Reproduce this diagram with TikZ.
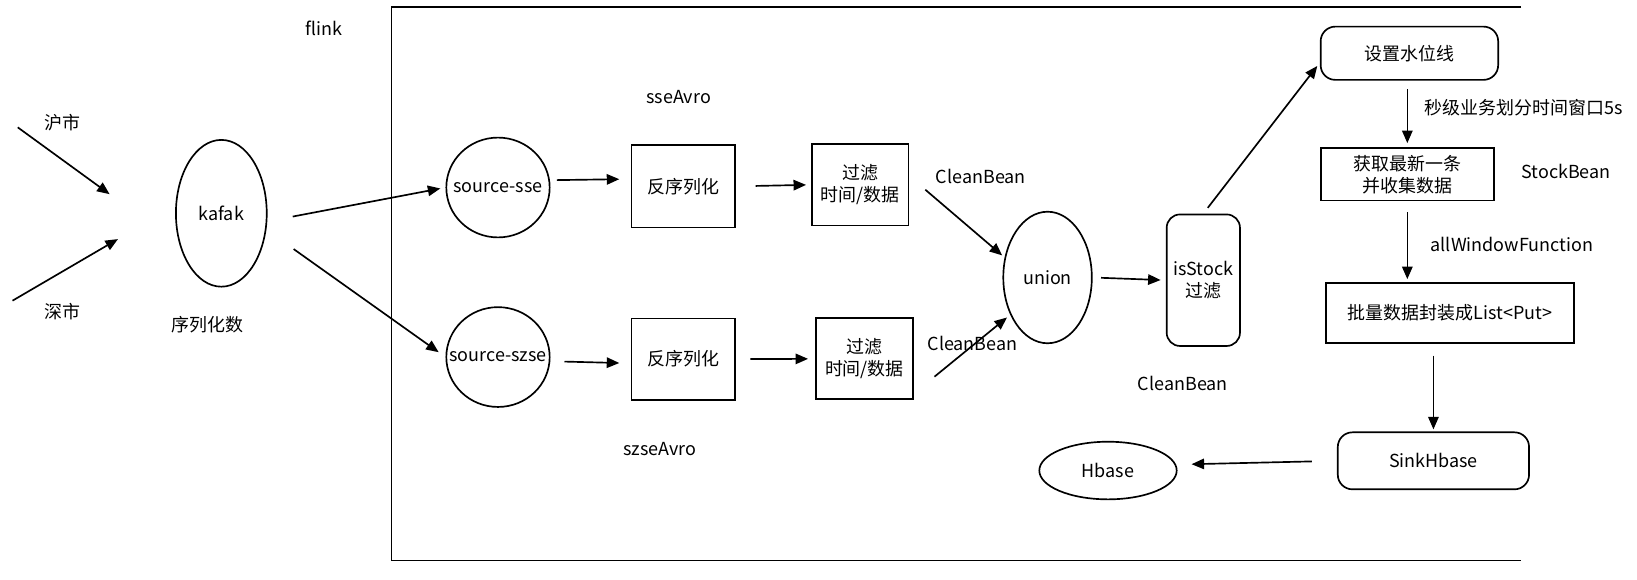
\documentclass[tikz,border=0pt]{standalone}
\usepackage{fontspec}
\setmainfont{Noto Sans CJK SC}
\usetikzlibrary{shapes.geometric,arrows.meta,positioning}

\begin{document}
\begin{tikzpicture}[x=0.5pt,y=-0.5pt,
    font=\fontsize{8.6pt}{10.6pt}\selectfont,
    every node/.style={inner sep=0pt},
    ell/.style={draw,ellipse,line width=0.8pt},
    box/.style={draw,rectangle,line width=0.8pt,align=center},
    rbox/.style={box,rounded corners=7pt},
    arr/.style={-{Triangle[length=6pt,width=5pt]},line width=0.8pt}]
    \useasboundingbox (0,0) rectangle (1568,555);
    %flink frame, open on the right
    \draw[line width=0.8pt] (1457,7) -- (375,7) -- (375,537) -- (1457,537);
    \node (flink) at (310,27) {flink};
    %inputs
    \node (hu) at (60,117) {沪市};
    \node (shen) at (60,298) {深市};
    \coordinate (hu0) at (17,122);
    \coordinate (hu1) at (105,186);
    \coordinate (shen0) at (12,288);
    \coordinate (shen1) at (113,229);
    \draw [arr] (hu0) -- (hu1);
    \draw [arr] (shen0) -- (shen1);
    \node [ell,minimum width=43.5pt,minimum height=70.3pt] (kafak) at (212,204.3) {kafak};
    \node (ser) at (199,311) {序列化数};
    %two sources
    \node [ell,minimum width=49.5pt,minimum height=47.8pt,label=center:source-sse] (sse) at (477,179.6) {};
    \node [ell,minimum width=49.5pt,minimum height=47.8pt,label=center:source-szse] (szse) at (477,342) {};
    \node (sseavro) at (650,93) {sseAvro};
    \node (szseavro) at (632,430) {szseAvro};
    \node [box,minimum width=49.5pt,minimum height=39.4pt] (deser1) at (654.5,178.5) {反序列化};
    \node [box,minimum width=49.5pt,minimum height=39pt] (deser2) at (654.5,344) {反序列化};
    \node [box,minimum width=46.3pt,minimum height=39pt] (filt1) at (824,177) {过滤\\时间/数据};
    \node [box,minimum width=46.6pt,minimum height=38.8pt] (filt2) at (828,343.7) {过滤\\时间/数据};
    \node (cb1) at (939.5,169) {CleanBean};
    \node (cb2) at (931.5,329) {CleanBean};
    \node [ell,minimum width=42.4pt,minimum height=63pt] (union) at (1003.4,265.8) {union};
    \node [rbox,rounded corners=6.4pt,minimum width=35.1pt,minimum height=63pt] (isstock) at (1152.6,268.4) {isStock\\过滤};
    \node (cb3) at (1133,367) {CleanBean};
    %window part
    \node [rbox,minimum width=85pt,minimum height=25.5pt] (water) at (1350,51) {设置水位线};
    \node [box,minimum width=83pt,minimum height=25.1pt] (latest) at (1348,167) {获取最新一条\\并收集数据};
    \node (stockbean) at (1500,164.4) {StockBean};
    \node [box,minimum width=119pt,minimum height=29pt] (batch) at (1388.8,299.8) {批量数据封装成List<Put>};
    \node [rbox,minimum width=91.6pt,minimum height=27.3pt] (sink) at (1373,441.4) {SinkHbase};
    \node [ell,minimum width=65.8pt,minimum height=27.6pt] (hbase) at (1061.3,450.7) {Hbase};
    %arrows
    \draw [arr,shorten <=12.4pt,shorten >=2.5pt] (kafak.-10) -- (sse.west);
    \draw [arr,shorten <=16pt,shorten >=4pt] (kafak.-20) -- (szse.west);
    \draw [arr,shorten <=3pt,shorten >=5.5pt] ([yshift=3.5pt]sse.east) -- ([yshift=3.5pt]deser1.west);
    \draw [arr,shorten <=6.7pt,shorten >=5.5pt] ([yshift=-2pt]szse.east) -- ([yshift=-2pt]deser2.west);
    \draw [arr,shorten <=9.5pt,shorten >=2.4pt] (deser1.east) -- (filt1.west);
    \draw [arr,shorten <=7pt,shorten >=3.3pt] (deser2.east) -- (filt2.west);
    \draw [arr,shorten <=10pt,shorten >=1.5pt] (filt1.10) -- (union.155);
    \draw [arr,shorten <=12.7pt,shorten >=2pt] (filt2.-35) -- (union.225);
    \draw [arr,shorten <=4pt,shorten >=2.5pt] (union.east) -- (isstock.west);
    \draw [arr,shorten <=3.5pt,shorten >=2pt] (isstock.north) -- (water.186);
    \draw [arr,shorten <=4pt,shorten >=2pt] (water.south -| latest.north) -- (latest.north)
        node [pos=0.4,right=8pt] {秒级业务划分时间窗口5s};
    \draw [arr,shorten <=5.3pt,shorten >=1.3pt] (latest.south) -- (latest.south |- batch.north)
        node [pos=0.53,right=10.8pt] {allWindowFunction};
    \draw [arr,shorten <=5.5pt,shorten >=1pt] (sink.north |- batch.south) -- (sink.north);
    \draw [arr,shorten <=12pt,shorten >=7.4pt] (sink.west) -- (hbase.5);
\end{tikzpicture}
\end{document}
